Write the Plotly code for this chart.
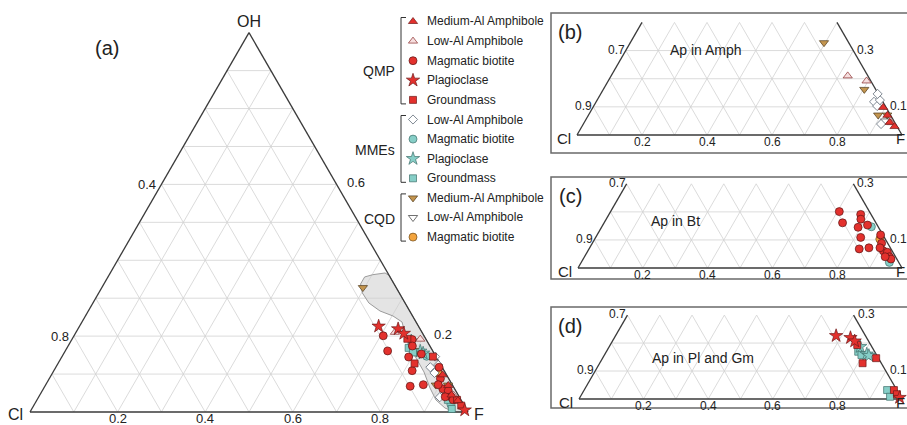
import numpy as np
import plotly.graph_objects as go

W, H = 907, 425
R3 = np.sqrt(3) / 2
FONT = "Liberation Sans, Arial, sans-serif"
TXT = "#222222"

# ---------------- data: apatite (F, OH) mole fractions, Cl = 1 - F - OH ----------------
# QMP
qmp_medal_F = [0.893, 0.920, 0.940, 0.962]
qmp_medal_OH = [0.098, 0.070, 0.045, 0.030]
qmp_lowal_F = [0.728, 0.795, 0.945]
qmp_lowal_OH = [0.210, 0.192, 0.044]
qmp_bt_F = [0.706, 0.736, 0.777, 0.786, 0.792, 0.817, 0.818, 0.834, 0.862,
            0.875, 0.893, 0.912, 0.927, 0.941, 0.950, 0.928, 0.896]
qmp_bt_OH = [0.201, 0.161, 0.191, 0.174, 0.145, 0.153, 0.109, 0.068, 0.072,
             0.118, 0.088, 0.061, 0.056, 0.040, 0.032, 0.040, 0.072]
qmp_pl_F = [0.683, 0.731, 0.750, 0.990]
qmp_pl_OH = [0.226, 0.219, 0.207, 0.005]
qmp_gm_F = [0.765, 0.814, 0.847, 0.959, 0.976]
qmp_gm_OH = [0.193, 0.128, 0.146, 0.032, 0.017]
# MMEs
mme_lowal_F = [0.855, 0.872, 0.870, 0.852, 0.916]
mme_lowal_OH = [0.118, 0.103, 0.124, 0.146, 0.039]
mme_bt_F = [0.832, 0.951]
mme_bt_OH = [0.147, 0.020]
mme_pl_F = [0.777, 0.811, 0.820]
mme_pl_OH = [0.187, 0.160, 0.155]
mme_gm_F = [0.780, 0.796, 0.938, 0.959]
mme_gm_OH = [0.169, 0.157, 0.032, 0.008]
# CQD
cqd_medal_F = [0.596, 0.803, 0.891, 0.919]
cqd_medal_OH = [0.328, 0.162, 0.071, 0.071]
cqd_lowal_F = [0.923]
cqd_lowal_OH = [0.050]
cqd_bt_F = [0.880]
cqd_bt_OH = [0.103]

# grey compositional field in panel (a)
field_F = [0.5860, 0.6015, 0.6273, 0.640, 1.000, 0.970, 0.9422, 0.9111, 0.8816,
           0.8468, 0.8101, 0.7783, 0.7520, 0.7307, 0.7022, 0.6660, 0.6300, 0.6020, 0.5860]
field_OH = [0.3560, 0.3620, 0.3665, 0.360, 0.000, 0.000, 0.0105, 0.0316, 0.0633,
            0.1055, 0.1424, 0.1740, 0.2083, 0.2373, 0.2531, 0.2663, 0.2874, 0.3137, 0.3375]

grid_ticks = [0.1, 0.2, 0.3, 0.4, 0.5, 0.6, 0.7, 0.8, 0.9]
bottom_ticks = [0.2, 0.4, 0.6, 0.8]
main_side_ticks = [0.2, 0.6]
zoom_side_ticks = [0.1, 0.3]

legend_groups = [
    ("QMP", [("qmp_medal", "Medium-Al Amphibole"), ("qmp_lowal", "Low-Al Amphibole"),
             ("qmp_bt", "Magmatic biotite"), ("qmp_pl", "Plagioclase"), ("qmp_gm", "Groundmass")]),
    ("MMEs", [("mme_lowal", "Low-Al Amphibole"), ("mme_bt", "Magmatic biotite"),
              ("mme_pl", "Plagioclase"), ("mme_gm", "Groundmass")]),
    ("CQD", [("cqd_medal", "Medium-Al Amphibole"), ("cqd_lowal", "Low-Al Amphibole"),
             ("cqd_bt", "Magmatic biotite")]),
]

series = {
    "qmp_medal": (qmp_medal_F, qmp_medal_OH), "qmp_lowal": (qmp_lowal_F, qmp_lowal_OH),
    "qmp_bt": (qmp_bt_F, qmp_bt_OH), "qmp_pl": (qmp_pl_F, qmp_pl_OH), "qmp_gm": (qmp_gm_F, qmp_gm_OH),
    "mme_lowal": (mme_lowal_F, mme_lowal_OH), "mme_bt": (mme_bt_F, mme_bt_OH),
    "mme_pl": (mme_pl_F, mme_pl_OH), "mme_gm": (mme_gm_F, mme_gm_OH),
    "cqd_medal": (cqd_medal_F, cqd_medal_OH), "cqd_lowal": (cqd_lowal_F, cqd_lowal_OH),
    "cqd_bt": (cqd_bt_F, cqd_bt_OH),
}

RED, TEAL, ORANGE, BROWN = "#e3312d", "#86cec7", "#f3a43e", "#c3954f"
styles = {
    "qmp_medal": dict(symbol="triangle-up", color=RED, line="#6e1a1a", size=8),
    "qmp_lowal": dict(symbol="triangle-up", color="#f6dede", line="#8a2c2c", size=8),
    "qmp_bt": dict(symbol="circle", color=RED, line="#5a1414", size=8),
    "qmp_pl": dict(symbol="star", color=RED, line="#6e1a1a", size=10),
    "qmp_gm": dict(symbol="square", color=RED, line="#6e1a1a", size=7),
    "mme_lowal": dict(symbol="diamond", color="#ffffff", line="#4b5866", size=7),
    "mme_bt": dict(symbol="circle", color=TEAL, line="#3f6e6a", size=8),
    "mme_pl": dict(symbol="star", color=TEAL, line="#3f6e6a", size=10),
    "mme_gm": dict(symbol="square", color=TEAL, line="#3f6e6a", size=7),
    "cqd_medal": dict(symbol="triangle-down", color=BROWN, line="#4e3a1c", size=8),
    "cqd_lowal": dict(symbol="triangle-down", color="#ffffff", line="#333333", size=8),
    "cqd_bt": dict(symbol="circle", color=ORANGE, line="#6e4a1a", size=8),
}

# panel layout (pixel placement of the Cl vertex, scale, truncation, frame box)
panels = [
    dict(key="a", X0=30, Y0=412, s=438, top=1.0, box=(0, 0, 500, 425),
         members=["cqd_medal", "cqd_lowal", "cqd_bt", "mme_lowal", "mme_bt", "mme_pl", "mme_gm",
                  "qmp_lowal", "qmp_bt", "qmp_gm", "qmp_pl", "qmp_medal"]),
    dict(key="b", X0=577, Y0=135, s=325, top=0.4, box=(551, 13, 907, 153),
         members=["cqd_medal", "cqd_lowal", "mme_lowal", "qmp_lowal", "qmp_medal"]),
    dict(key="c", X0=578, Y0=268, s=324, top=0.3, box=(551, 177, 907, 279),
         members=["cqd_bt", "mme_bt", "qmp_bt"]),
    dict(key="d", X0=579, Y0=399, s=323, top=0.3, box=(551, 307, 907, 408),
         members=["mme_gm", "mme_pl", "qmp_gm", "qmp_pl"]),
]


def uv(F, OH):
    F = np.asarray(F, float)
    OH = np.asarray(OH, float)
    return F + OH / 2, OH * R3


def px(p, F, OH):
    u, v = uv(F, OH)
    return p["X0"] + p["s"] * u, p["Y0"] - p["s"] * v


def paper(x, y):
    return float(x) / W, 1 - float(y) / H


fig = go.Figure()
annotations = []
shapes = []


def ann(x, y, text, size, xanchor="center", yanchor="middle", color=TXT):
    xp, yp = paper(x, y)
    annotations.append(dict(x=xp, y=yp, xref="paper", yref="paper", text=text, showarrow=False,
                            xanchor=xanchor, yanchor=yanchor,
                            font=dict(family=FONT, size=size, color=color)))


axes = {}
for i, p in enumerate(panels, start=1):
    x0, y0, x1, y1 = p["box"]
    sx = "" if i == 1 else str(i)
    axes["xaxis" + sx] = dict(domain=[x0 / W, x1 / W], range=[(x0 - p["X0"]) / p["s"], (x1 - p["X0"]) / p["s"]],
                              visible=False, fixedrange=True, anchor="y" + sx)
    axes["yaxis" + sx] = dict(domain=[1 - y1 / H, 1 - y0 / H], range=[(p["Y0"] - y1) / p["s"], (p["Y0"] - y0) / p["s"]],
                              visible=False, fixedrange=True, anchor="x" + sx)
    xr, yr = "x" + sx, "y" + sx
    top = p["top"]

    # grid
    gx, gy = [], []
    for t in grid_ticks:
        h = min(top, 1 - t)
        segs = []
        if t < top - 1e-9:
            segs.append(([0, 1 - t], [t, t]))
        segs.append(([t, t], [0, h]))
        segs.append(([1 - t, 1 - t - h], [0, h]))
        for Fs, Os in segs:
            u, v = uv(Fs, Os)
            gx += list(u) + [None]
            gy += list(v) + [None]
    fig.add_trace(go.Scatter(x=gx, y=gy, mode="lines", xaxis=xr, yaxis=yr, hoverinfo="skip",
                             line=dict(color="#d2d2d2", width=0.8), showlegend=False))

    # grey field (panel a)
    if p["key"] == "a":
        u, v = uv(field_F + [field_F[0]], field_OH + [field_OH[0]])
        fig.add_trace(go.Scatter(x=u, y=v, mode="lines", fill="toself", xaxis=xr, yaxis=yr,
                                 fillcolor="rgba(205,205,205,0.55)", hoverinfo="skip",
                                 line=dict(color="#9b9b9b", width=1), showlegend=False))

    # edges
    ex, ey = [], []
    for Fs, Os in [([0, 0], [0, top]), ([0, 1], [0, 0]), ([1, 1 - top], [0, top])]:
        u, v = uv(Fs, Os)
        ex += list(u) + [None]
        ey += list(v) + [None]
    fig.add_trace(go.Scatter(x=ex, y=ey, mode="lines", xaxis=xr, yaxis=yr, hoverinfo="skip",
                             line=dict(color="#3a3a3a", width=1.3), showlegend=False))

    # data
    for k in p["members"]:
        F, OH = series[k]
        st = styles[k]
        u, v = uv(F, OH)
        fig.add_trace(go.Scatter(x=u, y=v, mode="markers", xaxis=xr, yaxis=yr, cliponaxis=False,
                                 showlegend=False, name=k,
                                 marker=dict(symbol=st["symbol"], size=st["size"], color=st["color"],
                                             line=dict(color=st["line"], width=0.7))))

    # labels
    if p["key"] == "a":
        side, tsize, lpad, rpad, bpad = main_side_ticks, 13, 3, 8, 6
        for t in side:
            xl, yl = px(p, 0, t)
            ann(xl - lpad, yl, f"{1 - t:.1f}", tsize, xanchor="right")
            xr_, yr_ = px(p, 1 - t, t)
            ann(xr_ + rpad, yr_ - 2, f"{t:.1f}", tsize, xanchor="left")
        for t in bottom_ticks:
            xb, yb = px(p, t, 0)
            ann(xb, yb + bpad, f"{t:.1f}", tsize)
        xo, yo = px(p, 0, 1)
        ann(xo, yo - 11, "OH", 16)
        xc, yc = px(p, 0, 0)
        ann(xc - 5, yc + 2, "Cl", 16, xanchor="right")
        xf, yf = px(p, 1, 0)
        ann(xf + 4, yf + 2, "F", 16, xanchor="left")
        ann(107, 48, "(a)", 20)
    else:
        for t in zoom_side_ticks:
            xl, yl = px(p, 0, t)
            ann(xl + 1, yl - 1, f"{1 - t:.1f}", 12, xanchor="right")
            xr_, yr_ = px(p, 1 - t, t)
            ann(xr_ + 2, yr_ - 1, f"{t:.1f}", 12, xanchor="left")
        for t in bottom_ticks:
            xb, yb = px(p, t, 0)
            ann(xb, yb + 7, f"{t:.1f}", 12)
        xc, yc = px(p, 0, 0)
        ann(xc - 4, yc + 3, "Cl", 15, xanchor="right")
        xf, yf = px(p, 1, 0)
        # keep the F label inside the page (the reference has it right at the edge)
        ann(min(xf + 14, W - 0.5), yf + 3, "F", 15, xanchor="right")
        bx0, by0, bx1, by1 = p["box"]
        shapes.append(dict(type="rect", xref="paper", yref="paper",
                           x0=bx0 / W, x1=(bx1 + 3) / W, y0=1 - by1 / H, y1=1 - by0 / H,
                           line=dict(color="#6a6a6a", width=1.5)))

# panel titles
ann(570, 32, "(b)", 20)
ann(706, 50, "Ap in Amph", 14)
ann(570, 196, "(c)", 20)
ann(675, 221, "Ap in Bt", 14)
ann(570, 326, "(d)", 20)
ann(703, 358, "Ap in Pl and Gm", 14)

# ---------------- custom grouped legend ----------------
axes["xaxis5"] = dict(domain=[0, 1], range=[0, W], visible=False, fixedrange=True, anchor="y5")
axes["yaxis5"] = dict(domain=[0, 1], range=[H, 0], visible=False, fixedrange=True, anchor="x5")
row = 0
row_y = lambda r: 21.5 + 19.6 * r
group_label_offset = {"QMP": 71, "MMEs": 150, "CQD": 219}
for gname, items in legend_groups:
    first = row
    for k, label in items:
        st = styles[k]
        y = row_y(row)
        fig.add_trace(go.Scatter(x=[413], y=[y], mode="markers", xaxis="x5", yaxis="y5",
                                 showlegend=False, hoverinfo="skip", cliponaxis=False,
                                 marker=dict(symbol=st["symbol"], size=st["size"], color=st["color"],
                                             line=dict(color=st["line"], width=0.7))))
        ann(425, y, label, 12, xanchor="left")
        row += 1
    last = row - 1
    yt, yb = row_y(first) - 4, row_y(last) + 4
    for (xa, ya, xb2, yb2) in [(401, yt, 401, yb), (401, yt, 406, yt), (401, yb, 406, yb)]:
        x0p, y0p = paper(xa, ya)
        x1p, y1p = paper(xb2, yb2)
        shapes.append(dict(type="line", xref="paper", yref="paper", x0=x0p, y0=y0p, x1=x1p, y1=y1p,
                           line=dict(color="#333333", width=1)))
    ann(397, group_label_offset[gname], gname, 14, xanchor="right")

fig.update_layout(width=W, height=H, margin=dict(l=0, r=0, t=0, b=0),
                  paper_bgcolor="white", plot_bgcolor="rgba(0,0,0,0)",
                  showlegend=False, annotations=annotations, shapes=shapes, **axes)
fig.write_html("out.html")
